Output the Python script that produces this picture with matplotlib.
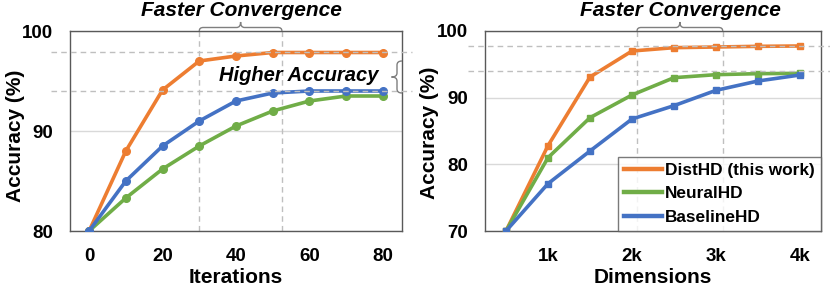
import matplotlib
matplotlib.use("Agg")
import matplotlib.pyplot as plt
from matplotlib.path import Path
from matplotlib.patches import PathPatch
from matplotlib.lines import Line2D
import matplotlib.transforms as mtransforms

plt.rcParams['font.family'] = ['Liberation Sans', 'DejaVu Sans']
plt.rcParams['font.weight'] = 'bold'

# ---------------- data ----------------
iterations = [0, 10, 20, 30, 40, 50, 60, 70, 80]
iter_disthd = [80.0, 88.0, 94.1, 97.0, 97.5, 97.85, 97.85, 97.85, 97.85]
iter_neuralhd = [80.0, 83.3, 86.2, 88.5, 90.5, 92.0, 93.0, 93.5, 93.5]
iter_baselinehd = [80.0, 85.0, 88.5, 91.0, 93.0, 93.8, 94.0, 94.0, 94.0]

dimensions = [500, 1000, 1500, 2000, 2500, 3000, 3500, 4000]
dim_disthd = [70.0, 82.8, 93.1, 97.0, 97.5, 97.6, 97.7, 97.75]
dim_neuralhd = [70.0, 81.0, 87.0, 90.4, 93.0, 93.45, 93.6, 93.65]
dim_baselinehd = [70.0, 77.1, 82.0, 86.8, 88.8, 91.1, 92.5, 93.4]

series_names = ['DistHD (this work)', 'NeuralHD', 'BaselineHD']
colors = ['#ED7D31', '#70AD47', '#4472C4']

left_xticks = [0, 20, 40, 60, 80]
left_yticks = [80, 90, 100]
right_xticks = [1000, 2000, 3000, 4000]
right_xticklabels = ['1k', '2k', '3k', '4k']
right_yticks = [70, 80, 90, 100]

left_ref_y = [97.9, 94.05]
left_ref_x = [30, 52.5]
right_ref_y = [97.75, 94.0]
right_ref_x = [2060, 3080]

W, H = 830, 288
fig = plt.figure(figsize=(W / 100, H / 100), dpi=100)

def px_axes(x0, y0, x1, y1):
    return fig.add_axes([x0 / W, 1 - y1 / H, (x1 - x0) / W, (y1 - y0) / H])

ax1 = px_axes(70, 31, 402, 231)
ax2 = px_axes(485, 31, 821, 231)

spine_col = '#595959'
grid_col = '#D9D9D9'
dash_col = '#BFBFBF'
TFS = 13.5
LFS = 15

def style(ax):
    for s in ax.spines.values():
        s.set_color(spine_col)
        s.set_linewidth(1.0)
    ax.tick_params(length=0, labelsize=TFS, pad=12)
    ax.set_axisbelow(True)
    ax.yaxis.grid(True, color=grid_col, lw=1.0)
    ax.set_ylabel('Accuracy (%)', fontsize=LFS, fontweight='bold')

# left panel
ax1.set_xlim(-5.2, 85.2)
ax1.set_ylim(80, 100)
ax1.set_xticks(left_xticks)
ax1.set_yticks(left_yticks)
style(ax1)
ax1.set_xlabel('Iterations', fontsize=LFS, fontweight='bold')
ax1.yaxis.set_label_coords(-0.135, 0.475)
ax1.xaxis.set_label_coords(0.5, -0.185)
for vals, c in zip([iter_disthd, iter_neuralhd, iter_baselinehd], colors):
    ax1.plot(iterations, vals, color=c, lw=2.6, marker='o', ms=5.5, zorder=3)

# right panel
ax2.set_xlim(250, 4250)
ax2.set_ylim(70, 100)
ax2.set_xticks(right_xticks)
ax2.set_xticklabels(right_xticklabels)
ax2.set_yticks(right_yticks)
style(ax2)
ax2.set_xlabel('Dimensions', fontsize=LFS, fontweight='bold')
ax2.yaxis.set_label_coords(-0.138, 0.49)
ax2.xaxis.set_label_coords(0.5, -0.185)
handles = []
for vals, c, n in zip([dim_disthd, dim_neuralhd, dim_baselinehd], colors, series_names):
    ax2.plot(dimensions, vals, color=c, lw=2.6, marker='s', ms=5, zorder=3)
    handles.append(Line2D([], [], color=c, lw=3.2, label=n))

leg = ax2.legend(handles=handles, loc='lower right',
                 frameon=True, fancybox=False, handlelength=2.2,
                 handletextpad=0.2, borderpad=0.35, labelspacing=0.5,
                 borderaxespad=0.0, prop={'weight': 'bold', 'size': 12.4})
leg.get_frame().set_edgecolor(spine_col)
leg.get_frame().set_linewidth(1.0)
leg.set_zorder(5)

# reference dashed lines
dash = dict(color=dash_col, lw=1.0, ls=(0, (4, 3)), zorder=1)
ident = mtransforms.IdentityTransform()

def hline_px(ax, y, xpx0, xpx1):
    ypx = ax.transData.transform((0, y))[1]
    fig.add_artist(Line2D([xpx0, xpx1], [ypx, ypx], transform=ident, **dash))

for y in left_ref_y:
    hline_px(ax1, y, 51, 412)
for y in right_ref_y:
    hline_px(ax2, y, 468, 830)
for x in left_ref_x:
    ax1.axvline(x, **dash)
for x in right_ref_x:
    ax2.axvline(x, **dash)

brace_col = '#7F7F7F'

def hbrace(ax, x0, x1):
    X0 = ax.transData.transform((x0, 0))[0]
    X1 = ax.transData.transform((x1, 0))[0]
    Y0 = ax.transAxes.transform((0, 1))[1]
    Ym = Y0 + 3.5
    Yt = Y0 + 9
    r = 4
    Xm = (X0 + X1) / 2
    verts = [(X0, Y0), (X0, Ym), (X0 + r, Ym),
             (Xm - r, Ym),
             (Xm, Ym), (Xm, Yt),
             (Xm, Ym), (Xm + r, Ym),
             (X1 - r, Ym),
             (X1, Ym), (X1, Y0)]
    codes = [Path.MOVETO, Path.CURVE3, Path.CURVE3, Path.LINETO,
             Path.CURVE3, Path.CURVE3, Path.CURVE3, Path.CURVE3,
             Path.LINETO, Path.CURVE3, Path.CURVE3]
    fig.add_artist(PathPatch(Path(verts, codes), fill=False, ec=brace_col,
                             lw=1.0, transform=ident))

def vbrace(ax, y0, y1, xpx_line, xpx_end, xpx_nub):
    Y0 = ax.transData.transform((0, y0))[1]
    Y1 = ax.transData.transform((0, y1))[1]
    Ym = (Y0 + Y1) / 2
    r = 4
    verts = [(xpx_end, Y0), (xpx_line, Y0), (xpx_line, Y0 + r),
             (xpx_line, Ym - r),
             (xpx_line, Ym), (xpx_nub, Ym),
             (xpx_line, Ym), (xpx_line, Ym + r),
             (xpx_line, Y1 - r),
             (xpx_line, Y1), (xpx_end, Y1)]
    codes = [Path.MOVETO, Path.CURVE3, Path.CURVE3, Path.LINETO,
             Path.CURVE3, Path.CURVE3, Path.CURVE3, Path.CURVE3,
             Path.LINETO, Path.CURVE3, Path.CURVE3]
    fig.add_artist(PathPatch(Path(verts, codes), fill=False, ec=brace_col,
                             lw=1.0, transform=ident))

hbrace(ax1, left_ref_x[0], left_ref_x[1])
hbrace(ax2, right_ref_x[0], right_ref_x[1])
vbrace(ax1, 93.8, 97.0, 397, 402, 391.5)

fig.text(241 / W, 1 - 11 / H, 'Faster Convergence', ha='center', va='center',
         fontsize=15, fontweight='bold', style='italic')
fig.text(680 / W, 1 - 11 / H, 'Faster Convergence', ha='center', va='center',
         fontsize=15, fontweight='bold', style='italic')
fig.text(299 / W, 1 - 75 / H, 'Higher Accuracy', ha='center', va='center',
         fontsize=14.5, fontweight='bold', style='italic')

fig.savefig('out.png', dpi=100)
